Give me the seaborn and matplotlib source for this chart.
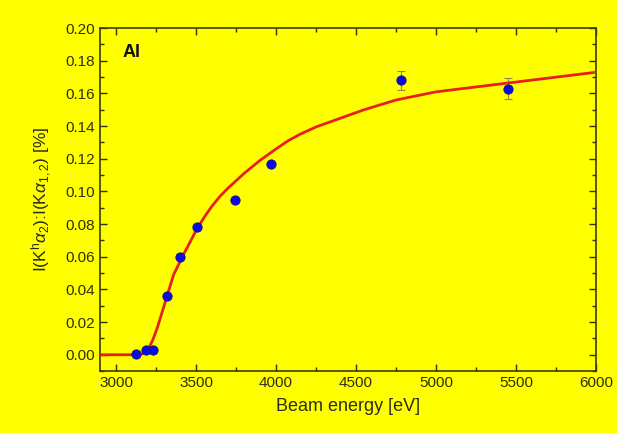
import numpy as np
import pandas as pd
import matplotlib
matplotlib.use("Agg")
import matplotlib.pyplot as plt
from matplotlib.ticker import MultipleLocator
import seaborn as sns

# measured points
energy = [3125, 3187, 3231, 3319, 3400, 3506, 3744, 3969, 4781, 5450]
ratio = [0.0006, 0.003, 0.003, 0.036, 0.060, 0.078, 0.0945, 0.117, 0.168, 0.163]
ratio_err = [0, 0, 0, 0, 0, 0, 0, 0, 0.0058, 0.0065]

# fitted curve
fit_energy = [2900, 3150, 3170, 3190, 3210, 3230, 3260, 3310, 3360, 3425, 3450, 3500,
              3550, 3600, 3650, 3700, 3800, 3900, 4000, 4075, 4150, 4250, 4350, 4450,
              4550, 4650, 4750, 4875, 5000, 5125, 5250, 5375, 5500, 5625, 5750, 5875, 6000]
fit_ratio = [0.0, 0.0, 0.0008, 0.0025, 0.005, 0.009, 0.017, 0.033, 0.049, 0.062, 0.0665, 0.076,
             0.084, 0.091, 0.097, 0.102, 0.111, 0.119, 0.1260, 0.131, 0.135, 0.1395, 0.143, 0.1465,
             0.150, 0.153, 0.156, 0.1585, 0.161, 0.1625, 0.164, 0.1655, 0.167, 0.1685, 0.170, 0.1715, 0.173]

bg = "#ffff00"
ink = "#2e2e14"

sns.set_theme(style="ticks")
plt.rcParams["font.family"] = ["Liberation Sans", "DejaVu Sans"]
plt.rcParams["mathtext.fontset"] = "custom"
plt.rcParams["mathtext.rm"] = "Liberation Sans"
plt.rcParams["mathtext.it"] = "Liberation Sans:italic"

fig = plt.figure(figsize=(6.17, 4.33), dpi=100, facecolor=bg)
ax = fig.add_axes([0.162, 0.143, 0.804, 0.792])
ax.set_facecolor(bg)

pts = pd.DataFrame({"energy": energy, "ratio": ratio, "err": ratio_err})
fit = pd.DataFrame({"energy": fit_energy, "ratio": fit_ratio})

ax.errorbar(pts["energy"], pts["ratio"], yerr=pts["err"], fmt="none",
            ecolor="#8a8a50", elinewidth=0.8, capsize=3, capthick=0.8, zorder=2)
sns.lineplot(data=fit, x="energy", y="ratio", ax=ax, color="#e8201c",
             linewidth=2.0, zorder=3)
sns.scatterplot(data=pts, x="energy", y="ratio", ax=ax, color="#0a0ae6",
                edgecolor="#101080", s=45, linewidth=0.6, zorder=4)

ax.set_xlim(2900, 6000)
ax.set_ylim(-0.01, 0.20)
ax.xaxis.set_major_locator(MultipleLocator(500))
ax.xaxis.set_minor_locator(MultipleLocator(250))
ax.yaxis.set_major_locator(MultipleLocator(0.02))
ax.yaxis.set_minor_locator(MultipleLocator(0.01))
ax.yaxis.set_major_formatter(plt.FuncFormatter(lambda v, p: f"{v:.2f}"))

ax.tick_params(which="both", direction="in", top=True, right=True,
               color=ink, labelcolor=ink, labelsize=11, width=1.0)
ax.tick_params(which="major", length=5)
ax.tick_params(which="minor", length=3)
for s in ax.spines.values():
    s.set_color("#3c3c08")
    s.set_linewidth(1.2)

ax.set_xlabel("Beam energy [eV]", fontsize=13, color=ink, labelpad=6)
ax.set_ylabel(r"I(K$^{\rm h}\alpha_2$):I(K$\alpha_{1,2}$) [%]", fontsize=12.5,
              color=ink, labelpad=8)
ax.text(0.045, 0.915, "Al", transform=ax.transAxes, fontsize=13,
        fontweight="bold", color="#111111")

fig.savefig("out.png", dpi=100, facecolor=bg)
